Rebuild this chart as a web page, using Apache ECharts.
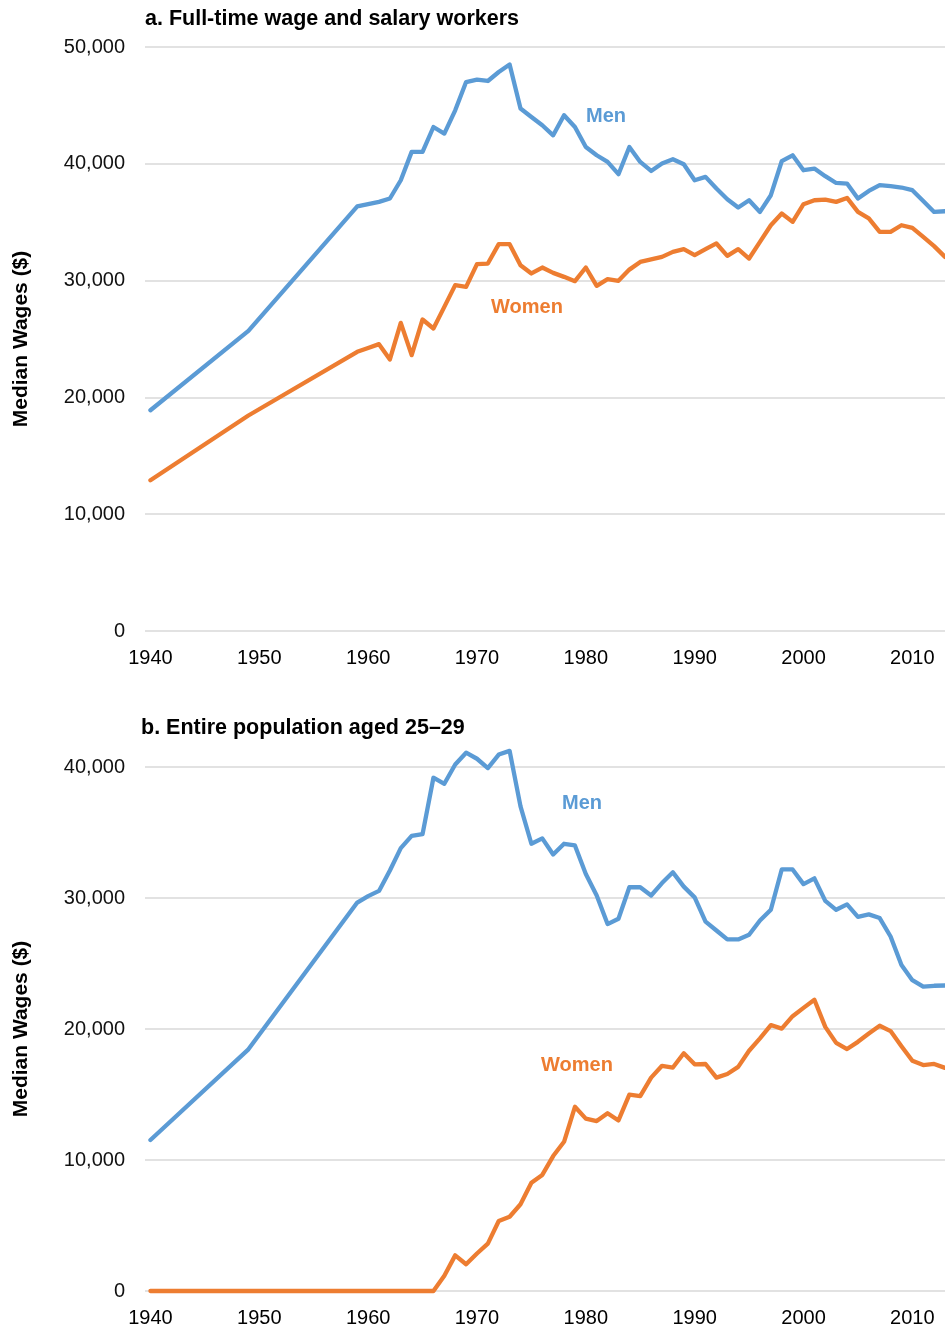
<!DOCTYPE html>
<html>
<head>
<meta charset="utf-8">
<script src="https://cdn.jsdelivr.net/npm/echarts@6/dist/echarts.min.js"></script>
<style>
html,body{margin:0;padding:0;background:#fff;}
#chart{width:945px;height:1330px;}
</style>
</head>
<body>
<div id="chart"></div>
<script>
const years = [1940, 1949, 1959, 1960, 1961, 1962, 1963, 1964, 1965, 1966, 1967, 1968, 1969,
  1970, 1971, 1972, 1973, 1974, 1975, 1976, 1977, 1978, 1979,
  1980, 1981, 1982, 1983, 1984, 1985, 1986, 1987, 1988, 1989,
  1990, 1991, 1992, 1993, 1994, 1995, 1996, 1997, 1998, 1999,
  2000, 2001, 2002, 2003, 2004, 2005, 2006, 2007, 2008, 2009,
  2010, 2011, 2012, 2013];

// Panel a: full-time wage and salary workers
const menFullTime = [18900, 25700, 36350, 36550, 36740, 37030, 38590, 41020, 41020, 43150, 42590, 44580, 47000,
  47210, 47090, 47860, 48500, 44730, 44010, 43300, 42440, 44160, 43150,
  41440, 40730, 40160, 39110, 41440, 40160, 39390, 40020, 40390, 39960,
  38590, 38880, 37880, 36970, 36260, 36880, 35880, 37310, 40220, 40730,
  39450, 39590, 38940, 38360, 38310, 37030, 37680, 38170, 38080, 37970,
  37740, 36820, 35880, 35940];
const womenFullTime = [12900, 18450, 23900, 24230, 24560, 23250, 26380, 23620, 26670, 25900, 27750, 29610, 29460,
  31410, 31460, 33120, 33120, 31320, 30610, 31120, 30660, 30320, 29950,
  31120, 29550, 30120, 29980, 30940, 31600, 31810, 32030, 32460, 32690,
  32180, 32690, 33180, 32120, 32690, 31890, 33310, 34740, 35740, 35030,
  36540, 36880, 36940, 36740, 37080, 35880, 35320, 34170, 34170, 34740,
  34510, 33740, 32950, 32030];

// Panel b: entire population aged 25-29
const menAll = [11530, 18450, 29650, 30140, 30540, 32100, 33810, 34740, 34880, 39180, 38720, 40190, 41090,
  40630, 39920, 40950, 41230, 37000, 34140, 34550, 33320, 34140, 34010,
  31830, 30190, 28010, 28420, 30820, 30820, 30190, 31140, 31960, 30870,
  30050, 28200, 27520, 26840, 26840, 27190, 28280, 29100, 32180, 32180,
  31060, 31500, 29780, 29100, 29510, 28560, 28750, 28470, 27060, 24880,
  23730, 23240, 23300, 23320];
const womenAll = [0, 0, 0, 0, 0, 0, 0, 0, 0, 0, 1170, 2720, 2040,
  2860, 3620, 5340, 5670, 6620, 8260, 8860, 10300, 11390, 14060,
  13160, 12970, 13570, 13020, 14990, 14880, 16290, 17190, 17060, 18150,
  17300, 17330, 16290, 16570, 17110, 18340, 19290, 20300, 20030, 20980,
  21610, 22230, 20160, 18940, 18470, 19020, 19650, 20250, 19840, 18690,
  17580, 17250, 17330, 17030];

const xTickLabels = [1940, 1950, 1960, 1970, 1980, 1990, 2000, 2010];
const titles = ['a. Full-time wage and salary workers', 'b. Entire population aged 25\u201329'];
const yAxisTitle = 'Median Wages ($)';
const seriesNames = ['Men', 'Women'];

const BLUE = '#5B9BD5', ORANGE = '#ED7D31';
const FONT = "'Liberation Sans', Arial, Helvetica, sans-serif";

function pairs(vals){ return years.map((y,i)=>[y, vals[i]]); }

function xAxisCfg(gi){
  return {
    type:'value', gridIndex:gi, min:1939.5, max:2013,
    axisLine:{show:false}, axisTick:{show:false}, splitLine:{show:false},
    axisLabel:{customValues:xTickLabels, color:'#000', fontSize:20, fontFamily:FONT, margin:17,
      formatter:(v)=>String(v)}
  };
}
function yAxisCfg(gi, max){
  return {
    type:'value', gridIndex:gi, min:0, max:max, interval:10000,
    name:yAxisTitle, nameLocation:'middle', nameGap:113, nameRotate:90,
    nameTextStyle:{fontSize:21, fontWeight:'bold', fontFamily:FONT, color:'#000'},
    axisLine:{show:false}, axisTick:{show:false},
    splitLine:{show:true, lineStyle:{color:'#d9d9d9', width:1.5}},
    axisLabel:{color:'#111', fontSize:20, fontFamily:FONT, margin:20,
      formatter:(v)=>v.toLocaleString('en-US')}
  };
}
function lineSeries(name, vals, gi, color){
  return {
    type:'line', name:name, xAxisIndex:gi, yAxisIndex:gi, data:pairs(vals),
    showSymbol:false, symbol:'none', clip:false, animation:false,
    lineStyle:{color:color, width:4.3, join:'round', cap:'round'}, itemStyle:{color:color}
  };
}
function txt(x, y, s, color, size, align){
  return {type:'text', x:x, y:y, silent:true,
    style:{text:s, fill:color, font:'bold '+size+'px '+FONT, textAlign:align||'left', textVerticalAlign:'middle'}};
}

const chart = echarts.init(document.getElementById('chart'), null, {renderer:'canvas'});
chart.setOption({
  animation:false,
  backgroundColor:'#fff',
  grid:[
    {left:145, right:0, top:47, height:584},
    {left:145, right:0, top:767, height:524}
  ],
  xAxis:[xAxisCfg(0), xAxisCfg(1)],
  yAxis:[yAxisCfg(0, 50000), yAxisCfg(1, 40000)],
  series:[
    lineSeries(seriesNames[0], menFullTime, 0, BLUE),
    lineSeries(seriesNames[1], womenFullTime, 0, ORANGE),
    lineSeries(seriesNames[0], menAll, 1, BLUE),
    lineSeries(seriesNames[1], womenAll, 1, ORANGE)
  ],
  graphic:[
    txt(145, 19.5, titles[0], '#000', 21.5),
    txt(141, 728, titles[1], '#000', 21.5),
    txt(606, 116, seriesNames[0], BLUE, 20, 'center'),
    txt(527, 307, seriesNames[1], ORANGE, 20, 'center'),
    txt(582, 803, seriesNames[0], BLUE, 20, 'center'),
    txt(577, 1065, seriesNames[1], ORANGE, 20, 'center')
  ]
});
</script>
</body>
</html>
